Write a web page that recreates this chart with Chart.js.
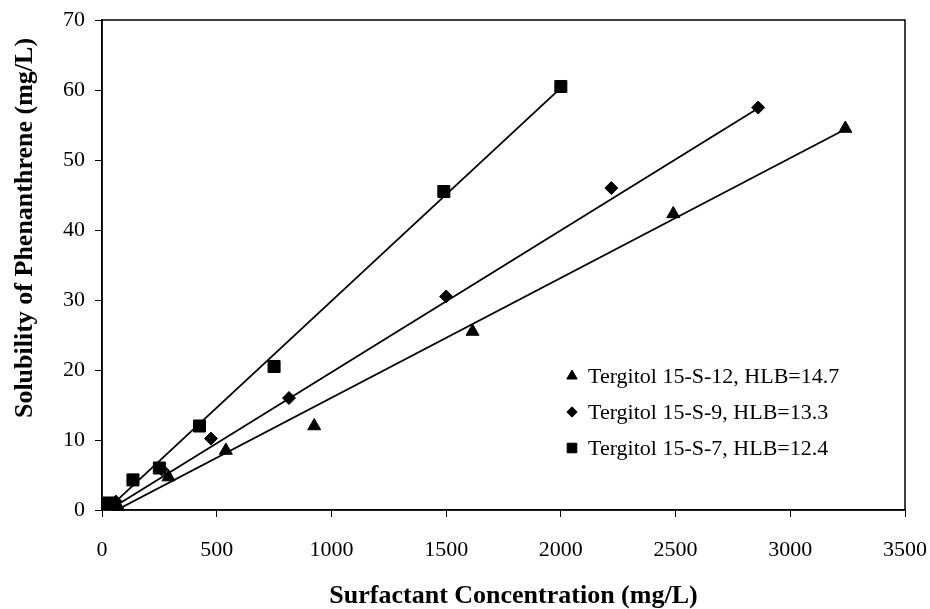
<!DOCTYPE html>
<html>
<head>
<meta charset="utf-8">
<title>Solubility of Phenanthrene</title>
<script src="https://cdn.jsdelivr.net/npm/chart.js"></script>
<style>
  html, body { margin: 0; padding: 0; background: #fff; }
  #wrap { width: 930px; height: 609px; }
</style>
</head>
<body>
<div id="wrap"><canvas id="chart" width="930" height="609"></canvas></div>
<script>
// ================== DATA ==================
const xTicks = [0, 500, 1000, 1500, 2000, 2500, 3000, 3500];
const yTicks = [0, 10, 20, 30, 40, 50, 60, 70];

const xTitle = "Surfactant Concentration (mg/L)";
const yTitle = "Solubility of Phenanthrene (mg/L)";

const seriesNames = [
  "Tergitol 15-S-12, HLB=14.7",
  "Tergitol 15-S-9, HLB=13.3",
  "Tergitol 15-S-7, HLB=12.4"
];

// Tergitol 15-S-12 (triangles)
const s12X = [70, 290, 540, 925, 1615, 2490, 3240];
const s12Y = [0.5, 4.7, 8.5, 12.0, 25.5, 42.3, 54.5];
// Tergitol 15-S-9 (diamonds)
const s9X = [60, 260, 475, 815, 1500, 2220, 2860];
const s9Y = [1.2, 5.8, 10.2, 16.0, 30.5, 46.0, 57.5];
// Tergitol 15-S-7 (squares)
const s7X = [30, 135, 250, 425, 750, 1490, 2000];
const s7Y = [1.0, 4.3, 6.0, 12.0, 20.5, 45.5, 60.5];

// fitted lines, end points
const fit12X = [70, 3240];
const fit12Y = [0.1, 54.4];
const fit9X = [60, 2860];
const fit9Y = [0.6, 57.4];
const fit7X = [30, 2000];
const fit7Y = [0.3, 60.3];

const toPoints = (xs, ys) => xs.map((x, i) => ({ x: x, y: ys[i] }));

const serif = '"Liberation Serif", "Times New Roman", serif';

// ================== PLUGINS ==================
// box around the plot area
const plotBox = {
  id: "plotBox",
  afterDraw(chart) {
    const a = chart.chartArea;
    const ctx = chart.ctx;
    ctx.save();
    ctx.strokeStyle = "#000";
    ctx.lineWidth = 1.5;
    ctx.strokeRect(a.left, a.top, a.right - a.left, a.bottom - a.top);
    ctx.restore();
  }
};

// axis titles (the y title sits above the middle, like the original)
const axisTitles = {
  id: "axisTitles",
  afterDraw(chart) {
    const ctx = chart.ctx;
    const a = chart.chartArea;
    ctx.save();
    ctx.fillStyle = "#000";
    ctx.font = "bold 26px " + serif;
    ctx.textAlign = "center";
    ctx.textBaseline = "middle";
    ctx.fillText(xTitle, (a.left + a.right) / 2 + 10, 596);
    ctx.translate(25, 228);
    ctx.rotate(-Math.PI / 2);
    ctx.fillText(yTitle, 0, 0);
    ctx.restore();
  }
};

// legend drawn inside the plot, lower right
const insideLegend = {
  id: "insideLegend",
  afterDraw(chart) {
    const ctx = chart.ctx;
    const markerX = 572;
    const firstY = 376;
    const gap = 36;
    ctx.save();
    ctx.font = "22px " + serif;
    ctx.textBaseline = "middle";
    ctx.strokeStyle = "#000";
    [0, 1, 2].forEach((idx, i) => {
      const ds = chart.data.datasets[idx];
      const y = firstY + i * gap;
      ctx.fillStyle = "#000";
      Chart.helpers.drawPoint(ctx, {
        pointStyle: ds.pointStyle,
        radius: ds.pointRadius * 0.8,
        borderWidth: 1
      }, markerX, y);
      ctx.fillStyle = "#000";
      ctx.fillText(ds.label, markerX + 16, y + 1);
    });
    ctx.restore();
  }
};

// ================== CHART ==================
const markerSet = (label, xs, ys, style, r) => ({
  label: label,
  data: toPoints(xs, ys),
  pointStyle: style,
  pointRadius: r,
  pointHoverRadius: r,
  backgroundColor: "#000",
  borderColor: "#000",
  borderWidth: 1,
  showLine: false,
  clip: false,
  order: 1
});

const lineSet = (xs, ys) => ({
  label: "",
  data: toPoints(xs, ys),
  showLine: true,
  pointRadius: 0,
  borderColor: "#000",
  borderWidth: 1.8,
  fill: false,
  order: 2
});

new Chart(document.getElementById("chart"), {
  type: "scatter",
  data: {
    datasets: [
      markerSet(seriesNames[0], s12X, s12Y, "triangle", 7.5),
      markerSet(seriesNames[1], s9X, s9Y, "rectRot", 6.5),
      markerSet(seriesNames[2], s7X, s7Y, "rect", 8.5),
      lineSet(fit12X, fit12Y),
      lineSet(fit9X, fit9Y),
      lineSet(fit7X, fit7Y)
    ]
  },
  options: {
    responsive: false,
    animation: false,
    events: [],
    layout: { padding: { top: 20, right: 25, left: 0, bottom: 0 } },
    plugins: {
      legend: { display: false },
      tooltip: { enabled: false }
    },
    scales: {
      x: {
        type: "linear",
        min: xTicks[0],
        max: xTicks[xTicks.length - 1],
        afterFit: (s) => { s.height = 99; s.paddingLeft = 0; s.paddingRight = 0; },
        afterBuildTicks: (s) => { s.ticks = xTicks.map(v => ({ value: v })); },
        grid: { display: true, drawOnChartArea: false, drawTicks: true, tickLength: 7, color: "#000", lineWidth: 1 },
        border: { display: true, color: "#000", width: 1.5 },
        ticks: {
          color: "#000",
          padding: 20,
          maxRotation: 0,
          font: { family: serif, size: 22 },
          callback: (v) => String(v)
        }
      },
      y: {
        type: "linear",
        min: yTicks[0],
        max: yTicks[yTicks.length - 1],
        afterFit: (s) => { s.width = 102; s.paddingTop = 0; s.paddingBottom = 0; },
        afterBuildTicks: (s) => { s.ticks = yTicks.map(v => ({ value: v })); },
        grid: { display: true, drawOnChartArea: false, drawTicks: true, tickLength: 7, color: "#000", lineWidth: 1 },
        border: { display: true, color: "#000", width: 1.5 },
        ticks: {
          color: "#000",
          padding: 10,
          font: { family: serif, size: 22 },
          callback: (v) => String(v)
        }
      }
    }
  },
  plugins: [plotBox, axisTitles, insideLegend]
});
</script>
</body>
</html>
